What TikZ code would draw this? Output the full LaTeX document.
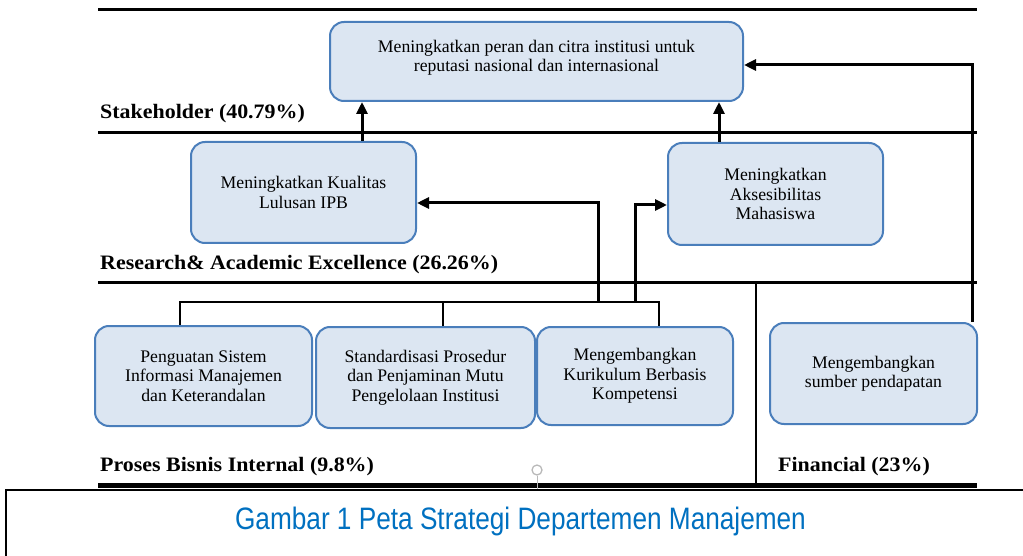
\documentclass[tikz,border=0pt]{standalone}
\usepackage{fontspec}
\setmainfont{Liberation Serif}
\newfontfamily\lblfont[FakeStretch=1.07]{Liberation Serif}
\newfontfamily\capfont[FakeStretch=0.845]{Liberation Sans}
\usetikzlibrary{arrows.meta,calc}
\definecolor{boxfill}{RGB}{220,230,242}
\definecolor{boxedge}{RGB}{74,126,187}
\definecolor{capblue}{RGB}{0,112,192}
\begin{document}
\begin{tikzpicture}[x=1pt,y=-1pt,
  sbox/.style={draw=boxedge, line width=2pt, fill=boxfill, rounded corners=14pt, align=center, inner sep=0pt, font=\fontsize{17.7}{19.5}\selectfont},
  btext/.style={align=center, inner sep=0pt, font=\fontsize{17.7}{19.5}\selectfont},
  sect/.style={line width=3pt},
  arr/.style={line width=3pt, -{Triangle[length=12pt,width=11pt]}},
  busline/.style={line width=2.2pt},
  lbl/.style={anchor=base west, inner sep=0pt, font=\lblfont\fontsize{20.5}{24}\bfseries},
]
\useasboundingbox (0,0) rectangle (1023,556);

% section lines
\draw[sect] (98,10) -- (977,10);
\draw[sect] (98,133) -- (977,133);
\draw[sect] (98,282) -- (977,282);
\draw[line width=4.5pt] (98,485.5) -- (977,485.5);
\draw[line width=2pt] (756,282) -- (756,485.5);

% boxes
\node[sbox, minimum width=413pt, minimum height=79pt] (topbox) at (536.5,61.5) {};
\node[btext] (toptext) at ($(topbox.center)+(0,-4)$) {Meningkatkan peran dan citra institusi untuk\\reputasi nasional dan internasional};
\node[sbox, minimum width=225pt, minimum height=101pt] (kl) at (303.5,192.5) {Meningkatkan Kualitas\\Lulusan IPB};
\node[sbox, minimum width=215pt, minimum height=102pt] (am) at (775.5,194) {Meningkatkan\\Aksesibilitas\\Mahasiswa};
\node[sbox, minimum width=217pt, minimum height=100pt] (ps) at (203.5,376) {Penguatan Sistem\\Informasi Manajemen\\dan Keterandalan};
\node[sbox, minimum width=219pt, minimum height=101pt] (sp) at (425.5,377.5) {Standardisasi Prosedur\\dan Penjaminan Mutu\\Pengelolaan Institusi};
\node[sbox, minimum width=196pt, minimum height=98pt] (mk) at (635,376) {Mengembangkan\\Kurikulum Berbasis\\Kompetensi};
\node[sbox, minimum width=207pt, minimum height=101pt] (sd) at (873.5,373.5) {Mengembangkan\\sumber pendapatan};

% labels
\node[lbl] (l1) at (100,118.5) {Stakeholder (40.79\%)};
\node[lbl] (l2) at (100,269.5) {Research\& Academic Excellence (26.26\%)};
\node[lbl] (l3) at (100,471.5) {Proses Bisnis Internal (9.8\%)};
\node[lbl] (l4) at (778,471.5) {Financial (23\%)};

% connectors
\coordinate (klTop) at ([xshift=58.5pt]kl.north);
\coordinate (amTop) at ([xshift=-56.5pt]am.north);
\draw[arr] (klTop) -- (klTop |- topbox.south);
\draw[arr] (amTop) -- (amTop |- topbox.south);
\coordinate (sdTop) at ([xshift=98.5pt]sd.north);
\draw[arr] (sdTop) |- ([yshift=-3.5pt]topbox.east);

\coordinate (busL) at (180,302);
\coordinate (psTop) at ([xshift=-23.5pt]ps.north);
\coordinate (spTop) at ([xshift=17.5pt]sp.north);
\coordinate (mkTop) at ([xshift=24pt]mk.north);
\draw[busline] (psTop) |- (mkTop |- busL) -- (mkTop);
\draw[busline] (spTop) -- (spTop |- busL);
\coordinate (bA) at (598.5,302);
\coordinate (bB) at (635,302);
\draw[arr] (bA) |- ([yshift=-10.5pt]kl.east);
\draw[arr] (bB) |- ([yshift=-11pt]am.west);

% rotation handle
\draw[gray!55, line width=1pt] (537,476) -- (537,489);
\draw[gray!55, line width=1.3pt] (537,470) circle[radius=5pt];

% caption box
\draw[line width=1.5pt] (1030,490) -- (6,490) -- (6,565);
\node[anchor=base, inner sep=0pt, text=capblue, font=\capfont\fontsize{31}{35}\selectfont] (cap) at (520.5,529.5) {Gambar 1 Peta Strategi Departemen Manajemen};
\end{tikzpicture}
\end{document}
